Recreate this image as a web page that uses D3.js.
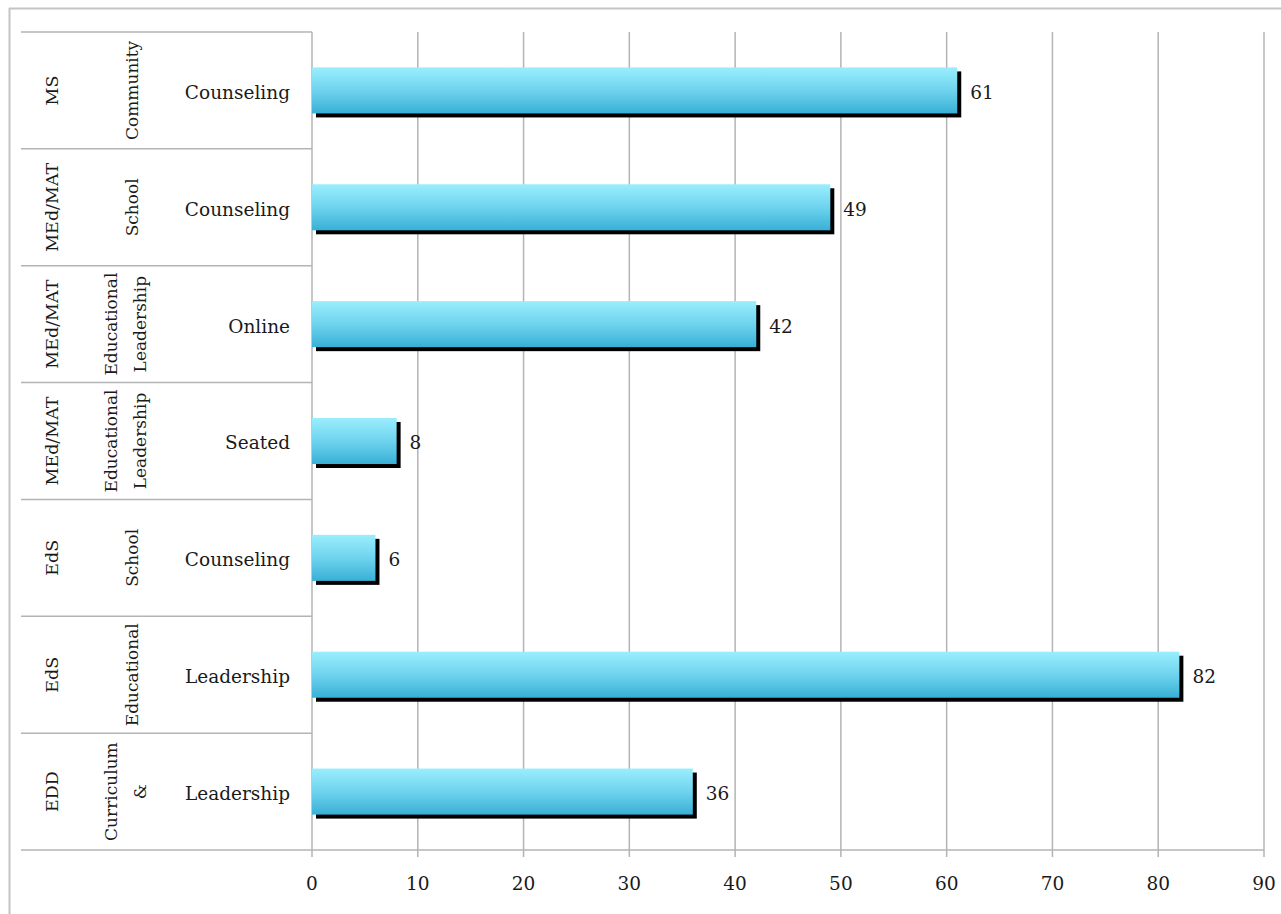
<!DOCTYPE html>
<html>
<head>
<meta charset="utf-8">
<script src="https://cdn.jsdelivr.net/npm/d3@7"></script>
<style>
  html, body { margin: 0; padding: 0; background: #fff; }
  svg { display: block; }
  text { font-family: "DejaVu Serif", "Liberation Serif", serif; fill: #1a1a1a; }
</style>
</head>
<body>
<svg id="chart" width="1281" height="914"></svg>
<script>
// ---- data ----
const degree = ["MS", "MEd/MAT", "MEd/MAT", "MEd/MAT", "EdS", "EdS", "EDD"];
const program = [["Community"], ["School"], ["Educational", "Leadership"], ["Educational", "Leadership"], ["School"], ["Educational"], ["Curriculum", "&"]];
const track = ["Counseling", "Counseling", "Online", "Seated", "Counseling", "Leadership", "Leadership"];
const counts = [61, 49, 42, 8, 6, 82, 36];
const xTicks = [0, 10, 20, 30, 40, 50, 60, 70, 80, 90];

// ---- layout ----
(function () {
const svg = d3.select("#chart");
const pLeft = 312, pRight = 1264, pTop = 32, pBottom = 850;
const tableLeft = 21;
const gridColor = "#b4b4b4";
const fs = 18.5;

const ids = counts.map((d, i) => i);
const x = d3.scaleLinear().domain([0, 90]).range([pLeft, pRight]);
const y = d3.scaleBand().domain(ids).range([pTop, pBottom]).paddingInner(0.606).paddingOuter(0.303);
const row = d3.scaleBand().domain(ids).range([pTop, pBottom]);

// outer frame
svg.append("line").attr("x1", 9).attr("x2", 1281).attr("y1", 8.5).attr("y2", 8.5)
  .attr("stroke", "#c4c4c4").attr("stroke-width", 2);
svg.append("line").attr("x1", 9.5).attr("x2", 9.5).attr("y1", 8).attr("y2", 914)
  .attr("stroke", "#c4c4c4").attr("stroke-width", 2);

// gradient
const defs = svg.append("defs");
const grad = defs.append("linearGradient").attr("id", "barGrad")
  .attr("x1", 0).attr("y1", 0).attr("x2", 0).attr("y2", 1);
grad.append("stop").attr("offset", "0%").attr("stop-color", "#9aeefd");
grad.append("stop").attr("offset", "50%").attr("stop-color", "#6fd3ee");
grad.append("stop").attr("offset", "100%").attr("stop-color", "#38b0d6");

// vertical gridlines with ticks below axis
svg.append("g").selectAll("line").data(xTicks).join("line")
  .attr("x1", d => x(d)).attr("x2", d => x(d))
  .attr("y1", pTop).attr("y2", pBottom + 7)
  .attr("stroke", gridColor).attr("stroke-width", 1.5);

// horizontal table/axis lines
const rowEdges = ids.map(i => row(i)).concat([pBottom]);
svg.append("g").selectAll("line").data(rowEdges).join("line")
  .attr("x1", tableLeft).attr("x2", (d, i) => i === rowEdges.length - 1 ? pRight : pLeft)
  .attr("y1", d => d).attr("y2", d => d)
  .attr("stroke", gridColor).attr("stroke-width", 1.5);

// tick labels
svg.append("g").selectAll("text").data(xTicks).join("text")
  .attr("x", d => x(d)).attr("y", 884).attr("dy", "0.35em")
  .attr("text-anchor", "middle")
  .attr("font-size", fs).text(d => d);

// bars: shadow + bar
const bars = svg.append("g");
bars.selectAll("rect.shadow").data(ids).join("rect").attr("class", "shadow")
  .attr("x", x(0) + 4).attr("y", i => y(i) + 4)
  .attr("width", i => x(counts[i]) - x(0)).attr("height", y.bandwidth())
  .attr("fill", "#000");
bars.selectAll("rect.bar").data(ids).join("rect").attr("class", "bar")
  .attr("x", x(0)).attr("y", i => y(i))
  .attr("width", i => x(counts[i]) - x(0)).attr("height", y.bandwidth())
  .attr("fill", "url(#barGrad)");

// value labels
svg.append("g").selectAll("text").data(ids).join("text")
  .attr("x", i => x(counts[i]) + 13).attr("y", i => y(i) + y.bandwidth() / 2 + 2)
  .attr("dy", "0.35em").attr("font-size", fs)
  .text(i => counts[i]);

// category labels - level 3
svg.append("g").selectAll("text").data(ids).join("text")
  .attr("x", 290).attr("y", i => row(i) + row.bandwidth() / 2 + 2)
  .attr("dy", "0.35em")
  .attr("text-anchor", "end")
  .attr("font-size", fs).text(i => track[i]);

// level 1 (rotated)
svg.append("g").selectAll("text").data(ids).join("text")
  .attr("transform", i => `translate(51.5,${row(i) + row.bandwidth() / 2}) rotate(-90)`)
  .attr("text-anchor", "middle").attr("dy", "0.35em")
  .attr("font-size", 17.5).text(i => degree[i]);

// level 2 (rotated, possibly two lines)
const lvl2 = svg.append("g");
ids.forEach(i => {
  const lines = program[i];
  const cy = row(i) + row.bandwidth() / 2;
  const cx = lines.length === 1 ? 132 : 126;
  const gap = 29;
  lines.forEach((t, k) => {
    const lx = cx + (k - (lines.length - 1) / 2) * gap;
    lvl2.append("text")
      .attr("transform", `translate(${lx},${cy}) rotate(-90)`)
      .attr("text-anchor", "middle").attr("dy", "0.35em")
      .attr("font-size", 17).text(t);
  });
});
})();
</script>
</body>
</html>
